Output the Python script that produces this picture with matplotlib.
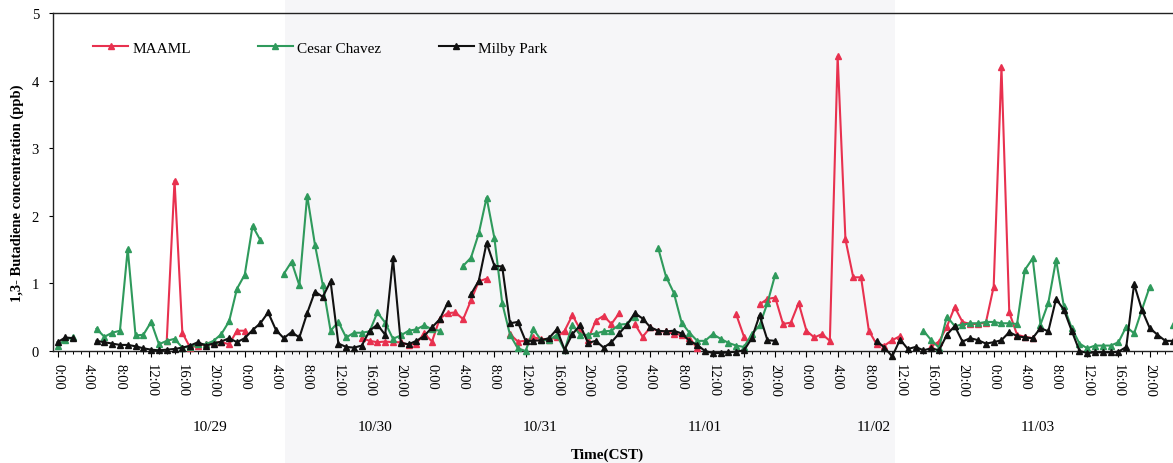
import numpy as np
import matplotlib
matplotlib.use("Agg")
import matplotlib.pyplot as plt
from matplotlib.patches import Rectangle
from matplotlib.ticker import MultipleLocator, FixedLocator

nan = np.nan

# Hourly 1,3-butadiene concentrations (ppb), 10/29 0:00 through 11/03 23:00
hours = np.arange(144)

maaml = [
    nan, nan, nan, nan, nan, nan, nan, nan, nan, nan, nan, nan,
    nan, nan, 0.15, 2.52, 0.27, 0.05, 0.08, 0.10, 0.13, 0.13, 0.10, 0.30,
    0.30, nan, nan, nan, nan, nan, nan, nan, nan, nan, nan, nan,
    nan, nan, nan, 0.19, 0.15, 0.13, 0.14, 0.13, 0.13, 0.09, 0.11, 0.26,
    0.14, 0.48, 0.56, 0.57, 0.47, 0.75, 1.03, 1.07, nan, nan, 0.25, 0.14,
    0.15, 0.20, 0.18, 0.17, 0.20, 0.30, 0.53, 0.32, 0.17, 0.45, 0.52, 0.40,
    0.56, nan, 0.40, 0.21, 0.35, 0.29, 0.29, 0.25, 0.24, 0.19, 0.04, nan,
    nan, nan, nan, 0.54, 0.21, nan, 0.69, 0.77, 0.79, 0.40, 0.42, 0.71,
    0.30, 0.20, 0.25, 0.15, 4.36, 1.65, 1.09, 1.09, 0.30, 0.10, 0.08, 0.16,
    0.22, nan, nan, nan, 0.07, 0.14, 0.36, 0.65, 0.43, 0.40, 0.40, 0.42,
    0.95, 4.20, 0.57, 0.24, 0.21, 0.19, nan, nan, nan, nan, nan, nan,
    nan, nan, nan, nan, nan, nan, nan, nan, nan, nan, nan, nan,
]

cesar_chavez = [
    0.08, 0.17, 0.20, nan, nan, 0.33, 0.21, 0.27, 0.30, 1.51, 0.23, 0.24,
    0.43, 0.10, 0.15, 0.18, 0.05, 0.06, 0.10, 0.10, 0.15, 0.25, 0.44, 0.92,
    1.13, 1.85, 1.64, nan, nan, 1.14, 1.32, 0.97, 2.30, 1.57, 0.98, 0.30,
    0.43, 0.20, 0.27, 0.27, 0.29, 0.57, 0.42, 0.18, 0.23, 0.30, 0.32, 0.38,
    0.32, 0.30, nan, nan, 1.26, 1.38, 1.74, 2.27, 1.67, 0.71, 0.24, 0.04,
    0.00, 0.32, 0.16, 0.16, 0.24, 0.01, 0.39, 0.24, 0.24, 0.26, 0.29, 0.30,
    0.39, 0.40, 0.51, nan, nan, 1.52, 1.10, 0.86, 0.42, 0.27, 0.15, 0.15,
    0.25, 0.18, 0.12, 0.08, 0.06, 0.25, 0.38, 0.71, 1.13, nan, nan, nan,
    nan, nan, nan, nan, nan, nan, nan, nan, nan, nan, nan, nan,
    nan, nan, nan, 0.30, 0.16, 0.05, 0.51, 0.37, 0.39, 0.41, 0.41, 0.43,
    0.43, 0.41, 0.41, 0.40, 1.20, 1.37, 0.39, 0.71, 1.35, 0.66, 0.34, 0.11,
    0.04, 0.08, 0.08, 0.08, 0.13, 0.36, 0.26, 0.61, 0.95, nan, nan, 0.39,
]

milby_park = [
    0.13, 0.20, 0.19, nan, nan, 0.15, 0.13, 0.11, 0.09, 0.09, 0.07, 0.04,
    0.02, 0.01, 0.02, 0.03, 0.05, 0.08, 0.13, 0.08, 0.11, 0.14, 0.19, 0.13,
    0.19, 0.31, 0.41, 0.57, 0.31, 0.19, 0.28, 0.20, 0.56, 0.88, 0.80, 1.03,
    0.11, 0.06, 0.05, 0.08, 0.30, 0.39, 0.24, 1.37, 0.12, 0.10, 0.15, 0.22,
    0.35, 0.47, 0.71, nan, nan, 0.84, 1.04, 1.60, 1.26, 1.25, 0.41, 0.43,
    0.15, 0.15, 0.16, 0.19, 0.32, 0.02, 0.25, 0.38, 0.12, 0.15, 0.05, 0.13,
    0.26, 0.39, 0.56, 0.48, 0.35, 0.30, 0.29, 0.30, 0.26, 0.15, 0.09, 0.00,
    -0.03, -0.03, -0.02, -0.01, 0.01, 0.19, 0.53, 0.16, 0.15, nan, nan, nan,
    nan, nan, nan, nan, nan, nan, nan, nan, nan, 0.15, 0.05, -0.08,
    0.17, 0.03, 0.06, 0.01, 0.04, 0.01, 0.24, 0.37, 0.14, 0.19, 0.16, 0.11,
    0.13, 0.16, 0.28, 0.22, 0.20, 0.19, 0.34, 0.29, 0.77, 0.61, 0.30, 0.00,
    -0.03, -0.02, -0.02, -0.02, -0.01, 0.06, 0.99, 0.61, 0.34, 0.24, 0.15, 0.15,
]

series_names = ["MAAML", "Cesar Chavez", "Milby Park"]
series_colors = ["#e8314f", "#2f9a5c", "#111111"]

tick_hours = np.arange(0, 144, 4)
tick_labels = ["%d:00" % (h % 24) for h in tick_hours]

date_labels = ["10/29", "10/30", "10/31", "11/01", "11/02", "11/03"]
date_label_hours = [19.5, 40.7, 61.9, 83.0, 104.6, 125.7]

plt.rcParams["font.family"] = ["Liberation Serif", "DejaVu Serif"]

W, H = 1173, 464
fig = plt.figure(figsize=(W / 100, H / 100), dpi=100)
fig.patch.set_facecolor("white")

# faint grey band of the printed page
fig.patches.append(Rectangle((285 / W, 0), (895 - 285) / W, 1,
                             transform=fig.transFigure, facecolor="#f6f6f8",
                             edgecolor="none", zorder=-10))

ax = fig.add_axes([53 / W, 1 - 352 / H, (1177 - 53) / W, 338 / H])
ax.set_facecolor("none")

handles = []
for name, vals, col in zip(series_names, [maaml, cesar_chavez, milby_park], series_colors):
    ln, = ax.plot(hours, vals, color=col, lw=1.5, marker="^", ms=4.4,
                  mfc=col, mec=col, clip_on=False, label=name, zorder=3)
    handles.append(ln)

ax.set_xlim(-0.58, 143.5)
ax.set_ylim(0, 5)

ax.xaxis.set_major_locator(FixedLocator(tick_hours))
ax.set_xticklabels(tick_labels)
ax.xaxis.set_minor_locator(MultipleLocator(1))
ax.yaxis.set_major_locator(MultipleLocator(1))

ax.tick_params(axis="x", which="major", direction="out", length=4, width=0.8,
               labelsize=10.5, labelrotation=-90, pad=5)
ax.tick_params(axis="x", which="minor", direction="out", length=2.5, width=0.7)
ax.tick_params(axis="y", which="major", direction="out", length=3, width=0.8,
               labelsize=10.5, pad=7)
for lab in ax.get_xticklabels():
    lab.set_va("top")
    lab.set_ha("center")

for side in ["left", "bottom", "top"]:
    ax.spines[side].set_linewidth(1.0)
    ax.spines[side].set_color("#222222")
ax.spines["right"].set_visible(False)

ax.set_ylabel("1,3- Butadiene concentration (ppb)", fontsize=10.5,
              fontweight="bold")
ax.yaxis.set_label_coords(-0.026, 0.47)

# one legend per station, laid out across the top of the plot
legend_x = [(93 - 53) / 1119, (257 - 53) / 1119, (437 - 53) / 1119]
legends = []
for h, lx in zip(handles, legend_x):
    lg = ax.legend(handles=[h], loc="center left", bbox_to_anchor=(lx, 0.897),
                   frameon=False, fontsize=11, handlelength=2.3,
                   handletextpad=0.25, borderpad=0, borderaxespad=0)
    legends.append(lg)
for lg in legends[:-1]:
    ax.add_artist(lg)

for lab, hx in zip(date_labels, date_label_hours):
    ax.text(hx, -0.222, lab, transform=ax.get_xaxis_transform(),
            ha="center", va="center", fontsize=11)

fig.text(607 / W, 1 - 455 / H, "Time(CST)", ha="center", va="center",
         fontsize=11, fontweight="bold")

fig.savefig("out.png", dpi=100)
